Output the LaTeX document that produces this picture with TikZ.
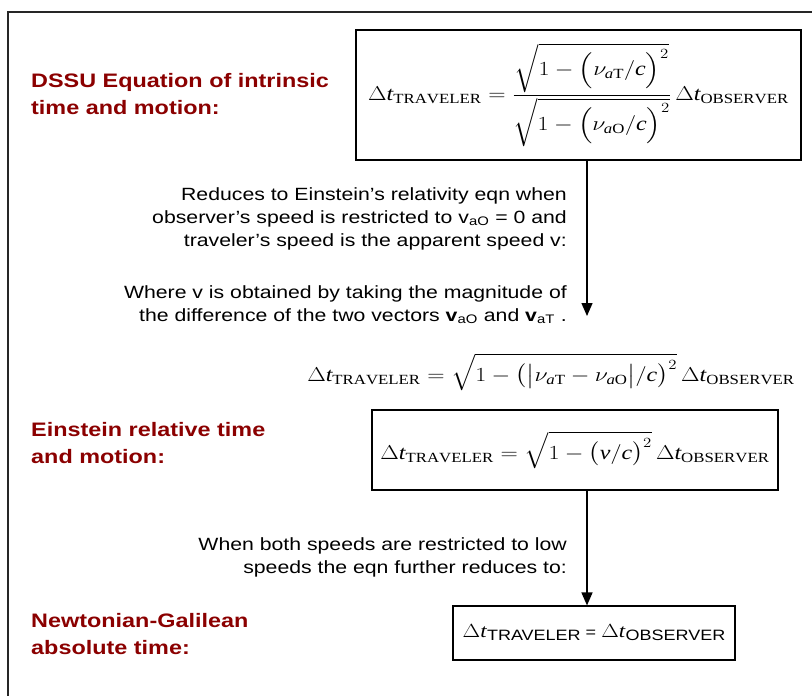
\documentclass[tikz,border=0pt]{standalone}
\usepackage{fix-cm}
\usepackage{amsmath,amssymb}
\usepackage{graphicx}
\usepackage{fontspec}
\setmainfont{Liberation Serif}
\setsansfont{Liberation Sans}
\usepackage{tikz}
\usepackage{xcolor}
\usetikzlibrary{arrows.meta}

\definecolor{headred}{RGB}{139,0,0}
\newcommand{\wider}[1]{\scalebox{1.2}[1]{#1}}
\newcommand{\dt}[1]{\Delta\mathit{t}_{\mathrm{#1}}}
\newcommand{\va}[1]{\nu_{\mathit{a}\mathrm{#1}}}

\tikzset{
  heading/.style={anchor=base west,inner sep=0pt,text=headred,
    font=\sffamily\bfseries\fontsize{19.5}{27.5}\selectfont},
  note/.style={anchor=base east,inner sep=0pt,
    font=\sffamily\fontsize{17.7}{23}\selectfont},
  eqbox/.style={draw,line width=1.1pt,inner sep=0pt,
    font=\fontsize{20}{24}\selectfont},
  flow/.style={line width=1.4pt,-{Triangle[length=13pt,width=11pt]}}
}

\begin{document}
\begin{tikzpicture}[x=1pt,y=-1pt]
\useasboundingbox (0,0) rectangle (812,696);
\clip (0,0) rectangle (812,696);
\fill[white] (0,0) rectangle (812,696);
\draw[line width=1.3pt,black!85] (8,12) rectangle (840,720);

\coordinate (ax) at (587,0);

\node[heading] (dssulbl) at (31,87) {\wider{\begin{tabular}[t]{@{}l@{}}DSSU Equation of intrinsic\\time and motion:\end{tabular}}};
\node[eqbox,minimum width=445pt,minimum height=130pt] (dssu) at (578.5,95)
  {\wider{$\displaystyle \dt{TRAVELER}=\frac{\sqrt{1-\Bigl(\va{T}/\mathit{c}\Bigr)^2}}{\sqrt{1-\Bigl(\va{O}/\mathit{c}\Bigr)^2}}\,\dt{OBSERVER}$}};

\node[note] (reduce) at (567,200) {\wider{\begin{tabular}[t]{@{}r@{}}Reduces to Einstein’s relativity eqn when\\observer’s speed is restricted to v\textsubscript{aO} = 0 and\\traveler’s speed is the apparent speed v:\end{tabular}}};
\node[note] (where) at (567,298) {\wider{\begin{tabular}[t]{@{}r@{}}Where v is obtained by taking the magnitude of\\the difference of the two vectors \textbf{v}\textsubscript{aO} and \textbf{v}\textsubscript{aT} .\end{tabular}}};
\coordinate (tip1) at (587,316);
\draw[flow] (dssu.south -| ax) -- (tip1);

\node[inner sep=0pt,font=\fontsize{20}{24}\selectfont] (relv) at (551,372)
  {\wider{$\displaystyle \dt{TRAVELER}=\sqrt{1-\bigl(\bigl|\va{T}-\va{O}\bigr|/\mathit{c}\bigr)^2}\,\dt{OBSERVER}$}};

\node[heading] (einlbl) at (31,436) {\wider{\begin{tabular}[t]{@{}l@{}}Einstein relative time\\and motion:\end{tabular}}};
\node[eqbox,minimum width=406pt,minimum height=80pt] (einst) at (575,450)
  {\wider{$\displaystyle \dt{TRAVELER}=\sqrt{1-\bigl(\mathit{v}/\mathit{c}\bigr)^2}\,\dt{OBSERVER}$}};

\node[note] (lowspd) at (567,550) {\wider{\begin{tabular}[t]{@{}r@{}}When both speeds are restricted to low\\speeds the eqn further reduces to:\end{tabular}}};

\node[heading] (newtlbl) at (31,627) {\wider{\begin{tabular}[t]{@{}l@{}}Newtonian-Galilean\\absolute time:\end{tabular}}};
\node[eqbox,minimum width=282pt,minimum height=54pt] (newt) at (594,633)
  {\wider{\sffamily\fontsize{15}{18}\selectfont{\fontsize{19}{20}\selectfont$\Delta$\textit{\rmfamily t}}\raisebox{-3pt}{TRAVELER} = {\fontsize{19}{20}\selectfont$\Delta$\textit{\rmfamily t}}\raisebox{-3pt}{OBSERVER}}};
\draw[flow] (einst.south -| ax) -- (newt.north -| ax);
\end{tikzpicture}
\end{document}
